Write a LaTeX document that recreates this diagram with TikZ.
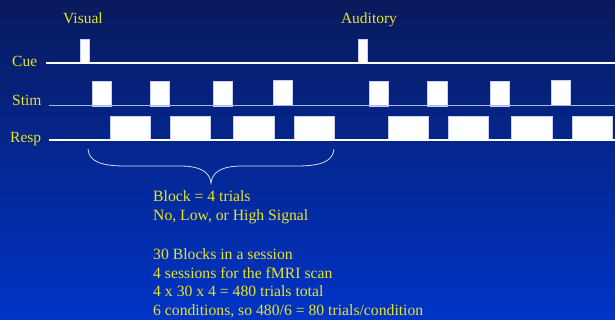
\documentclass[tikz,border=0pt]{standalone}
\usepackage{fontspec}
\setmainfont{Liberation Serif}
\definecolor{bgtop}{RGB}{8,26,92}
\definecolor{bgbot}{RGB}{0,52,200}
\definecolor{txt}{RGB}{232,228,40}
\definecolor{stimln}{RGB}{170,185,230}
\tikzset{
  lbl/.style={text=txt, font=\fontsize{15.5}{18}\selectfont, inner sep=0pt},
  body/.style={text=txt, font=\fontsize{15.7}{19}\selectfont, inner sep=0pt, align=left},
  pulse/.style={fill=white, draw={rgb,255:red,200;green,210;blue,240}, line width=0.6pt},
  baseline/.style={draw=white, line width=1.3pt},
  stimline/.style={draw=stimln, line width=1.2pt},
  brace/.style={draw={rgb,255:red,215;green,222;blue,245}, line width=0.8pt}
}
\begin{document}
\begin{tikzpicture}[x=1pt,y=-1pt]
\useasboundingbox (0,0) rectangle (615,320);
\shade[top color=bgtop, bottom color=bgbot] (0,0) rectangle (615,320);
% labels
\node[lbl, anchor=base] (vis) at (83,24) {Visual};
\node[lbl, anchor=base] (aud) at (369,24) {Auditory};
\node[lbl, anchor=base west] (cue) at (12,67) {Cue};
\node[lbl, anchor=base west] (stim) at (12,106) {Stim};
\node[lbl, anchor=base west] (resp) at (10,143) {Resp};
% lines
\coordinate (cueL) at (46,63); \coordinate (cueR) at (615,63);
\coordinate (stimL) at (49,105.5); \coordinate (stimR) at (615,105.5);
\coordinate (respL) at (49,140); \coordinate (respR) at (615,140);
% resp boxes
\foreach \a/\b in {110/150,170/210,233/274,294/334,388/428,448/488,511/552,572/612}
  \path[pulse] (\a,116) rectangle (\b,140);
% stim boxes
\foreach \a/\b in {92/111,150/169,213/232,369/388,427/447,490/509}
  \path[pulse] (\a,81) rectangle (\b,106);
\foreach \a/\b in {273/292,551/570}
  \path[pulse] (\a,80) rectangle (\b,105);
% cue pulses
\path[pulse] (80,39) rectangle (89,63);
\path[pulse] (358,39) rectangle (367,63);
\path[baseline] (cueL) -- (cueR);
\path[stimline] (stimL) -- (stimR);
\path[baseline] (respL) -- (respR);
% brace
\coordinate (bL) at (88,149);
\coordinate (bR) at (334,149);
\coordinate (bT) at (211,183);
\path[brace] (bL) .. controls (89,160) and (98,166) .. (125,166)
  -- (180,166) .. controls (200,166) and (210,172) .. (bT)
  .. controls (212,172) and (222,166) .. (242,166)
  -- (297,166) .. controls (324,166) and (333,160) .. (bR);
% text
\node[body, anchor=base west] (t1) at (153,202) {Block = 4 trials};
\node[body, anchor=base west] (t2) at (153,221) {No, Low, or High Signal};
\node[body, anchor=base west] (t3) at (153,259) {30 Blocks in a session};
\node[body, anchor=base west] (t4) at (153,278) {4 sessions for the fMRI scan};
\node[body, anchor=base west] (t5) at (153,296) {4 x 30 x 4 = 480 trials total};
\node[body, anchor=base west] (t6) at (153,315) {6 conditions, so 480/6 = 80 trials/condition};
\end{tikzpicture}
\end{document}
